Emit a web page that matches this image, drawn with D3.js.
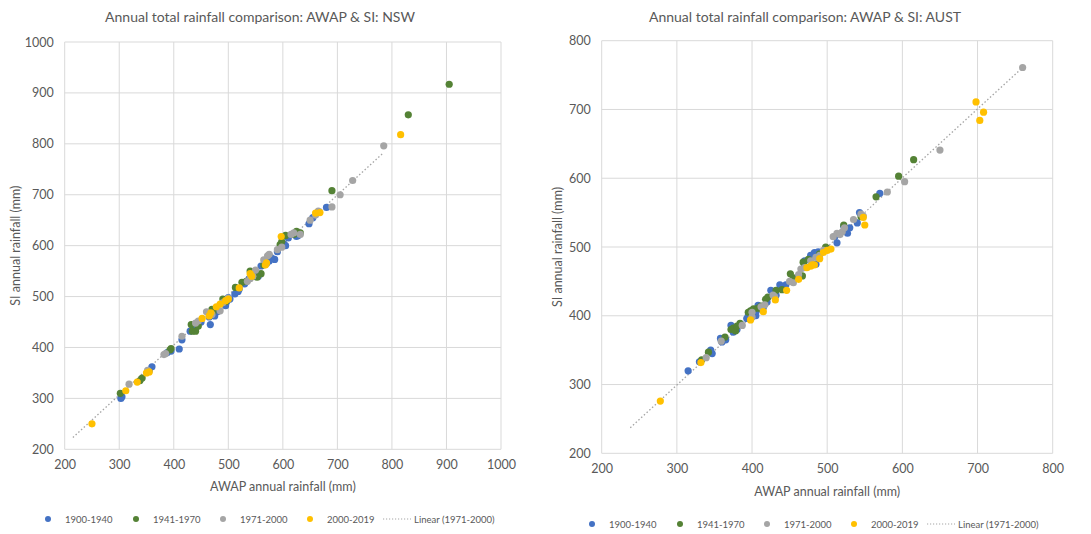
<!DOCTYPE html>
<html>
<head>
<meta charset="utf-8">
<script src="https://cdn.jsdelivr.net/npm/d3@7"></script>
<style>
  body { margin: 0; background: #fff; }
  text { font-family: Lato, "Open Sans", sans-serif; fill: #595959; }
</style>
</head>
<body>
<div id="chart"></div>
<script>
var svgWidth = 1091;
var svgHeight = 534;

// series names + colours
var seriesNames = ["1900-1940", "1941-1970", "1971-2000", "2000-2019"];
var seriesColors = ["#4472C4", "#548235", "#A5A5A5", "#FFC000"];
var trendName = "Linear (1971-2000)";

// NSW: [AWAP, SI] pairs
var nsw1900 = [[303,300],[305,303],[360,362],[355,355],[388,390],[395,393],[410,397],[415,415],[430,432],[440,440],
  [450,450],[467,445],[475,462],[480,470],[495,482],[497,490],[500,498],[503,495],[512,505],[518,510],
  [520,515],[530,525],[538,535],[545,540],[555,540],[560,560],[570,565],[575,570],[580,575],[585,573],
  [590,588],[602,603],[605,600],[610,615],[625,618],[628,620],[648,643],[655,655],[680,675],[597,600],[465,460]];
var nsw1941 = [[302,310],[338,335],[342,340],[395,398],[393,395],[432,445],[434,432],[440,432],[445,442],[470,475],
  [472,470],[490,495],[495,490],[513,518],[525,528],[533,530],[540,550],[545,545],[553,538],[560,545],
  [565,562],[595,602],[598,608],[605,620],[620,622],[625,628],[632,625],[690,708],[830,857],[905,917]];
var nsw1971 = [[318,328],[352,355],[382,386],[385,388],[415,422],[440,448],[445,452],[460,470],[470,465],[485,472],
  [490,488],[500,497],[535,530],[540,535],[545,540],[550,552],[565,572],[572,580],[575,583],[590,592],
  [598,597],[615,622],[620,625],[632,622],[650,650],[660,660],[665,668],[690,676],[705,700],[728,728],[785,796]];
var nsw2000 = [[250,250],[312,315],[333,332],[350,350],[355,352],[452,457],[465,462],[468,468],[478,480],[485,485],
  [495,492],[500,495],[520,517],[540,545],[543,540],[568,562],[570,566],[597,618],[660,664],[668,665],[816,818]];
var nswTrendX = [215, 783];
var nswTrendY = [223, 781];

// AUST
var aus1900 = [[315,320],[330,333],[345,350],[358,367],[360,362],[372,386],[375,376],[380,380],[393,396],[400,408],
  [405,405],[410,410],[420,420],[425,437],[432,430],[437,445],[440,440],[445,445],[470,480],[478,488],
  [483,492],[488,493],[510,515],[513,506],[522,530],[527,520],[540,535],[543,550],[570,578],[395,400],
  [415,412],[365,365],[452,450],[500,498],[530,528],[485,475],[347,345],[385,388],[405,400],[460,455],[408,415]];
var aus1941 = [[333,336],[342,347],[364,369],[372,380],[375,382],[378,378],[384,389],[398,407],[402,410],[408,411],
  [412,414],[418,424],[421,427],[432,437],[451,461],[467,458],[468,478],[475,482],[498,500],[522,532],
  [545,544],[565,573],[595,603],[615,627],[470,472],[380,385],[395,405],[440,438],[455,455],[490,490]];
var aus1971 = [[339,339],[359,363],[387,386],[400,398],[412,413],[417,416],[428,430],[450,450],[455,448],[462,460],
  [465,468],[478,480],[485,485],[490,488],[508,515],[513,520],[517,518],[520,522],[523,528],[545,548],
  [548,545],[580,580],[603,595],[650,641],[760,761],[430,428],[470,470],[535,540],[495,495],[400,405]];
var aus2000 = [[278,276],[332,332],[398,394],[415,406],[431,423],[446,437],[462,453],[473,470],[478,472],[480,474],
  [483,474],[490,483],[495,492],[500,495],[505,497],[548,543],[550,532],[698,711],[703,684],[708,696]];
var ausTrendX = [238, 760];
var ausTrendY = [237, 761];

var nswTicksX = [200,300,400,500,600,700,800,900,1000];
var nswTicksY = [200,300,400,500,600,700,800,900,1000];
var ausTicksX = [200,300,400,500,600,700,800];
var ausTicksY = [200,300,400,500,600,700,800];

var svg = d3.select("#chart")
  .append("svg")
  .attr("width", svgWidth)
  .attr("height", svgHeight);

function drawChart(opts) {
  var x = d3.scaleLinear().domain([opts.ticksX[0], opts.ticksX[opts.ticksX.length - 1]])
    .range([opts.left, opts.right]);
  var y = d3.scaleLinear().domain([opts.ticksY[0], opts.ticksY[opts.ticksY.length - 1]])
    .range([opts.bottom, opts.top]);

  var g = svg.append("g");

  // gridlines
  g.selectAll(".gx").data(opts.ticksX).enter().append("line")
    .attr("x1", d => x(d)).attr("x2", d => x(d))
    .attr("y1", opts.top).attr("y2", opts.bottom)
    .attr("stroke", "#d9d9d9").attr("stroke-width", 1);
  g.selectAll(".gy").data(opts.ticksY).enter().append("line")
    .attr("x1", opts.left).attr("x2", opts.right)
    .attr("y1", d => y(d)).attr("y2", d => y(d))
    .attr("stroke", "#d9d9d9").attr("stroke-width", 1);

  // axes (labels only, lines are the gridlines)
  var bottomAxis = d3.axisBottom(x).tickValues(opts.ticksX).tickFormat(d3.format("d")).tickSize(0).tickPadding(11);
  var leftAxis = d3.axisLeft(y).tickValues(opts.ticksY).tickFormat(d3.format("d")).tickSize(0).tickPadding(11);
  var xa = g.append("g").attr("transform", `translate(0, ${opts.bottom})`).call(bottomAxis);
  var ya = g.append("g").attr("transform", `translate(${opts.left}, 0)`).call(leftAxis);
  [xa, ya].forEach(function(a) {
    a.select(".domain").remove();
    a.selectAll("text").attr("font-size", 12.5).attr("fill", "#595959")
      .style("font-family", "Lato, sans-serif");
  });

  // trendline
  var trend = opts.trendX.map((v, i) => [v, opts.trendY[i]]);
  g.append("path")
    .datum(trend)
    .attr("d", d3.line().x(d => x(d[0])).y(d => y(d[1])))
    .attr("fill", "none")
    .attr("stroke", "#a5a5a5")
    .attr("stroke-width", 1.3)
    .attr("stroke-dasharray", "1.5,2.2");

  // points
  opts.series.forEach(function(s, i) {
    g.append("g").selectAll("circle")
      .data(s)
      .enter()
      .append("circle")
      .attr("cx", d => x(d[0]))
      .attr("cy", d => y(d[1]))
      .attr("r", 3.6)
      .attr("fill", seriesColors[i]);
  });

  // titles
  g.append("text")
    .attr("x", opts.titleX).attr("y", 22)
    .attr("text-anchor", "middle")
    .attr("font-size", 14)
    .text(opts.title);

  g.append("text")
    .attr("x", (opts.left + opts.right) / 2).attr("y", opts.xLabelY)
    .attr("text-anchor", "middle")
    .attr("font-size", 12.5)
    .text("AWAP annual rainfall (mm)");

  g.append("text")
    .attr("transform", "rotate(-90)")
    .attr("x", -(opts.top + opts.bottom) / 2)
    .attr("y", opts.yLabelX)
    .attr("text-anchor", "middle")
    .attr("font-size", 12.5)
    .text("SI annual rainfall (mm)");

  // legend
  var lg = g.append("g").attr("transform", `translate(${opts.legendX}, ${opts.legendY})`);
  var offs = [0, 88, 175, 262];
  seriesNames.forEach(function(name, i) {
    lg.append("circle").attr("cx", offs[i]).attr("cy", 0).attr("r", 3).attr("fill", seriesColors[i]);
    lg.append("text").attr("x", offs[i] + 17).attr("y", 3.5).attr("font-size", 9.5).text(name);
  });
  lg.append("line").attr("x1", 335).attr("x2", 363).attr("y1", 0).attr("y2", 0)
    .attr("stroke", "#a5a5a5").attr("stroke-width", 1).attr("stroke-dasharray", "1.2,1.8");
  lg.append("text").attr("x", 366).attr("y", 3.5).attr("font-size", 9.5).text(trendName);
}

drawChart({
  title: "Annual total rainfall comparison: AWAP & SI: NSW",
  titleX: 260,
  left: 64.7, right: 501, top: 42, bottom: 449.3,
  ticksX: nswTicksX, ticksY: nswTicksY,
  series: [nsw1900, nsw1941, nsw1971, nsw2000],
  trendX: nswTrendX, trendY: nswTrendY,
  xLabelY: 491, yLabelX: 20,
  legendX: 48, legendY: 519
});

drawChart({
  title: "Annual total rainfall comparison: AWAP & SI: AUST",
  titleX: 805,
  left: 601.7, right: 1052.7, top: 40.7, bottom: 453.3,
  ticksX: ausTicksX, ticksY: ausTicksY,
  series: [aus1900, aus1941, aus1971, aus2000],
  trendX: ausTrendX, trendY: ausTrendY,
  xLabelY: 496, yLabelX: 562,
  legendX: 592, legendY: 524
});
</script>
</body>
</html>
